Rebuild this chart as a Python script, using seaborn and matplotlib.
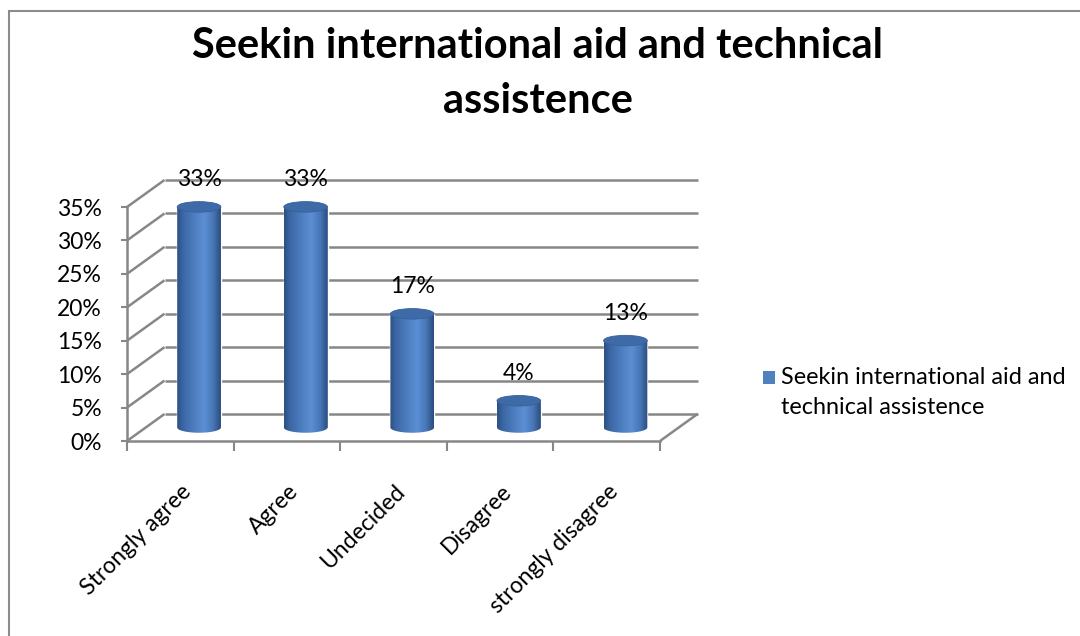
import textwrap

import numpy as np
import pandas as pd
import matplotlib
matplotlib.use("Agg")
import matplotlib.pyplot as plt
import seaborn as sns
from matplotlib.patches import Ellipse, Rectangle, PathPatch
from matplotlib.path import Path
from matplotlib.colors import LinearSegmentedColormap
from matplotlib.transforms import Affine2D

# ---- data -------------------------------------------------------------
categories = ["Strongly agree", "Agree", "Undecided", "Disagree", "strongly disagree"]
values = [33, 33, 17, 4, 13]
value_labels = ["33%", "33%", "17%", "4%", "13%"]
y_ticks = [0, 5, 10, 15, 20, 25, 30, 35]
y_tick_labels = ["0%", "5%", "10%", "15%", "20%", "25%", "30%", "35%"]
series_name = "Seekin international aid and technical assistence"
title_lines = ["Seekin international aid and technical", "assistence"]

# ---- style ------------------------------------------------------------
sns.set_theme(style="white")
plt.rcParams["font.family"] = ["Lato", "DejaVu Sans"]

BLUE = "#4f81bd"
GRID = "#878787"
FS = 16.5
W, H = 1080, 636


def fx(px):
    return px / W


def fy(py):
    return 1 - py / H


fig = plt.figure(figsize=(W / 100, H / 100), dpi=100)
fig.patch.set_facecolor("white")

# front plane of the 3-D box
ax_left, ax_right, ax_bottom, ax_top = 127, 660, 441, 207
ax = fig.add_axes([fx(ax_left), fy(ax_bottom), (ax_right - ax_left) / W,
                   (ax_bottom - ax_top) / H])
ax.set_facecolor("none")

n = len(categories)
xmin, xmax = -0.5, n - 0.5
ymin, ymax = 0, 35
px_per_cat = (ax_right - ax_left) / n
px_per_pct = (ax_bottom - ax_top) / ymax

# depth of the box expressed in data units
ddx = 37.5 / px_per_cat
ddy = 27.0 / px_per_pct

# ---- walls and floor ---------------------------------------------------
line_kw = dict(color=GRID, lw=1.8, clip_on=False, zorder=1, solid_capstyle="butt")
for t in y_ticks:
    ax.plot([xmin + ddx, xmax + ddx], [t + ddy, t + ddy], **line_kw)
    ax.plot([xmin, xmin + ddx], [t, t + ddy], **line_kw)
ax.plot([xmax, xmax + ddx], [0, ddy], **line_kw)

# ---- cylinders ----------------------------------------------------------
df = pd.DataFrame({"category": categories, "value": values})
sns.barplot(data=df, x="category", y="value", color=BLUE, width=0.41,
            saturation=1, ax=ax, zorder=3)

mid = Affine2D().translate(ddx / 2, ddy / 2) + ax.transData

body_cmap = LinearSegmentedColormap.from_list(
    "cyl", [(0.0, "#2b4f82"), (0.12, "#3a65a2"), (0.35, "#4a7abb"),
            (0.62, "#5b8fd3"), (0.82, "#4877b8"), (1.0, "#2a4c7c")])
grad = np.linspace(0, 1, 256).reshape(1, -1)
ell_h = 10.5 / px_per_pct

for patch in ax.patches:
    patch.set_transform(mid)
    patch.set_clip_on(False)
    x0, w, h = patch.get_x(), patch.get_width(), patch.get_height()
    xc = x0 + w / 2
    theta = np.linspace(np.pi, 2 * np.pi, 60)
    arc = np.column_stack([xc + w / 2 * np.cos(theta), ell_h / 2 * np.sin(theta)])
    verts = np.vstack([[x0, h], arc, [x0 + w, h], [x0, h]])
    codes = [Path.MOVETO] + [Path.LINETO] * (len(verts) - 2) + [Path.CLOSEPOLY]
    clip = PathPatch(Path(verts, codes), transform=mid, facecolor="none",
                     edgecolor="none")
    ax.add_patch(clip)
    im = ax.imshow(grad, extent=(x0, x0 + w, -ell_h / 2, h), aspect="auto",
                   cmap=body_cmap, interpolation="bicubic", transform=mid,
                   zorder=4)
    im.set_clip_path(clip)
    ax.add_patch(Ellipse((xc, h), w, ell_h, transform=mid, facecolor="#3e6ba8",
                         edgecolor="#36609a", lw=0.6, zorder=5, clip_on=False))

# ---- value labels -------------------------------------------------------
for i, (v, lab) in enumerate(zip(values, value_labels)):
    ax.annotate(lab, xy=(i, v), xycoords=mid, xytext=(0, 27),
                textcoords="offset pixels", ha="center", va="center",
                fontsize=FS, color="black", zorder=6, annotation_clip=False)

# ---- axes ---------------------------------------------------------------
ax.set_xlim(xmin, xmax)
ax.set_ylim(ymin, ymax)
for s in ["top", "right"]:
    ax.spines[s].set_visible(False)
for s in ["bottom", "left"]:
    ax.spines[s].set_color(GRID)
    ax.spines[s].set_linewidth(1.8)
    ax.spines[s].set_zorder(2)

ax.set_yticks(y_ticks)
ax.set_yticklabels(y_tick_labels, fontsize=FS, color="black")
ax.tick_params(axis="y", direction="out", length=4, width=1.5, color=GRID, pad=14,
               left=True)

ax.set_xticks(range(n))
ax.set_xticklabels(categories, rotation=45, ha="right", va="center",
                   rotation_mode="anchor", fontsize=FS, color="black")
ax.set_xticks(np.arange(n + 1) - 0.5, minor=True)
ax.tick_params(axis="x", which="major", length=0, pad=34)
ax.tick_params(axis="x", which="minor", direction="out", length=7, width=1.5,
               color=GRID, bottom=True)
for lbl in ax.get_xticklabels():
    lbl.set_transform(lbl.get_transform() + Affine2D().translate(8, 0))
ax.set_xlabel("")
ax.set_ylabel("")
ax.grid(False)

# ---- title ----------------------------------------------------------------
fig.text(fx(538), fy(58), title_lines[0], ha="center", va="baseline",
         fontsize=30, fontweight="bold", color="black")
fig.text(fx(538), fy(113), title_lines[1], ha="center", va="baseline",
         fontsize=30, fontweight="bold", color="black")

# ---- legend -----------------------------------------------------------------
fig.add_artist(Rectangle((fx(763), fy(384)), 12 / W, 13 / H,
                         transform=fig.transFigure, facecolor=BLUE,
                         edgecolor="none"))
for k, line in enumerate(textwrap.wrap(series_name, 28)):
    fig.text(fx(781), fy(378 + 29 * k), line, ha="left", va="center",
             fontsize=16.8, color="black")

# ---- chart frame ----------------------------------------------------------
fig.add_artist(Rectangle((fx(9), fy(700)), (1200 - 9) / W, (700 - 11) / H,
                         transform=fig.transFigure, fill=False,
                         edgecolor="#8c8c8c", lw=1.5))

fig.savefig("out.png", dpi=100, facecolor="white")
